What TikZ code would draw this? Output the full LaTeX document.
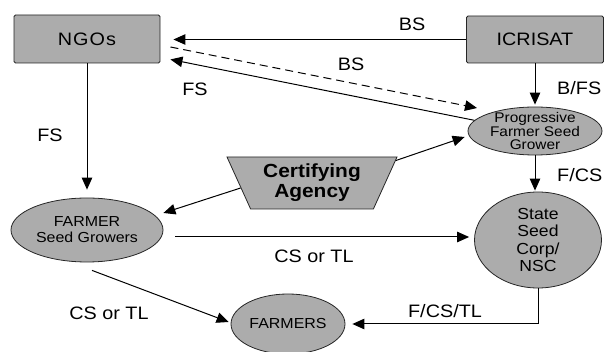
\documentclass[tikz,border=0pt]{standalone}
\usepackage{fontspec}
\setmainfont{Liberation Sans}[FakeStretch=1.1]
\usetikzlibrary{arrows.meta,shapes.geometric,calc}
\begin{document}
\begin{tikzpicture}[x=1pt,y=-1pt,
  box/.style={draw=black!85, line width=0.9pt, fill=gray!65, rounded corners=1.5pt, inner sep=0pt, font=\fontsize{18}{20}\selectfont},
  oval/.style={ellipse, draw=black!85, line width=0.8pt, fill=gray!65, inner sep=0pt},
  arr/.style={-{Triangle[length=12pt,width=10.5pt]}, line width=1pt},
  lbl/.style={font=\fontsize{18}{20}\selectfont, inner sep=0pt},
]
\useasboundingbox (0,0) rectangle (605,352);
% nodes
\node[box, minimum width=146pt, minimum height=48pt] (ngos) at (87,39) {\addfontfeature{LetterSpace=6}NGOs};
\node[box, minimum width=137pt, minimum height=47pt] (icrisat) at (535,39.5) {ICRISAT};
\node[oval, minimum width=134pt, minimum height=48pt,
  label={[font=\fontsize{14}{13.5}\selectfont, align=center]center:Progressive\\Farmer Seed\\Grower}] (prog) at (535,131) {};
\node[oval, minimum width=152pt, minimum height=64pt,
  label={[font=\fontsize{14.5}{16}\selectfont, align=center]center:FARMER\\Seed Growers}] (farmer) at (87,230) {};
\node[oval, minimum width=127pt, minimum height=96pt,
  label={[font=\fontsize{16}{17.5}\selectfont, align=center]center:State\\Seed\\Corp/\\NSC}] (state) at (538,240) {};
\node[oval, minimum width=114pt, minimum height=60pt,
  label={[font=\fontsize{14.5}{16}\selectfont]center:FARMERS}] (farmers) at (288,324) {};
\node[trapezium, trapezium angle=58, shape border rotate=180, trapezium stretches body,
  draw=black!85, line width=0.8pt, fill=gray!65, inner sep=0pt,
  minimum width=170pt, minimum height=52pt, align=center,
  font=\bfseries\fontsize{19}{20}\selectfont] (cert) at (312,183) {Certifying\\Agency};
% labels
\node[lbl] (lBS1) at (412,24) {BS};
\node[lbl] (lBS2) at (351,64) {BS};
\node[lbl] (lFS1) at (195,89) {FS};
\node[lbl] (lFS2) at (50,135) {FS};
\node[lbl, anchor=west] (lBFS) at (557,88) {B/FS};
\node[lbl, anchor=west] (lFCS) at (557,175) {F/CS};
\node[lbl] (lCS1) at (314,256) {CS or TL};
\node[lbl] (lCS2) at (109,313) {CS or TL};
\node[lbl] (lFCT) at (445,311) {F/CS/TL};
% connectors
\draw[arr, shorten >=13pt] (icrisat.west) -- (icrisat.west -| ngos.east);
\draw[arr, dash pattern=on 8pt off 5pt] ($(ngos.east)+(10,8)$) -- ($(prog.center)+(-58,-23)$);
\draw[arr] (prog.170) -- ($(ngos.south east)+(10,-4)$);
\draw[arr, shorten >=2pt] (icrisat.south) -- (prog.north);
\draw[arr, shorten >=1pt] (prog.south) -- (prog.south |- state.north);
\draw[arr, shorten >=8pt] (ngos.south) -- (farmer.north);
\draw[arr] (cert.184) -- ($(farmer.east)+(0,-17)$);
\draw[arr] (cert.15) -- ($(prog.west)+(-3,6)$);
\draw[arr] ($(farmer.east)+(12,7)$) -- ($(state.west)+(-5,-3)$);
\draw[arr] ($(farmer.south)+(5,8)$) -- ($(farmers.west)+(-2,-2)$);
\draw[arr] (state.south) |- ($(farmers.east)+(7,0)$);
\end{tikzpicture}
\end{document}
